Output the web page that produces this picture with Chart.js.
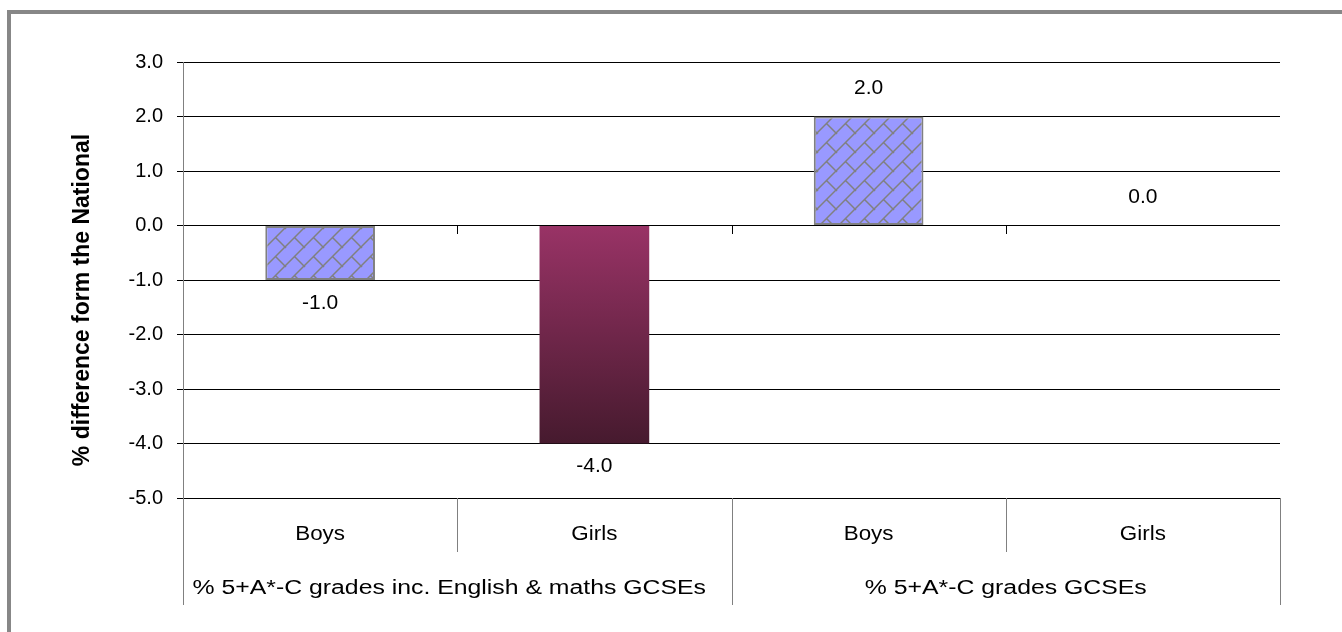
<!DOCTYPE html>
<html>
<head>
<meta charset="utf-8">
<script src="https://cdn.jsdelivr.net/npm/chart.js@4/dist/chart.umd.min.js"></script>
<style>
  html, body { margin: 0; padding: 0; background: #fff; }
  .wrap { position: relative; width: 1342px; height: 632px; overflow: hidden; }
  .frame { position: absolute; left: 7px; top: 10px; width: 1400px; height: 700px; border: 4px solid #878787; }
  #chart { position: absolute; left: 0; top: 0; }
</style>
</head>
<body>
<div class="wrap">
  <div class="frame"></div>
  <canvas id="chart" width="1342" height="632"></canvas>
</div>
<script>
// categories: sub label per bar, then the two measure groups (two bars each)
const subLabels = ['Boys', 'Girls', 'Boys', 'Girls'];
const groupLabels = ['% 5+A*-C grades inc. English & maths GCSEs', '% 5+A*-C grades GCSEs'];
const groupSpan = [2, 2];

// % difference from the national figure
const diffValues = [-1.0, -4.0, 2.0, 0.0];

const yMin = -5;
const yMax = 3;
const yStep = 1;
const yTitle = '% difference form the National';

const FONT = '"Liberation Sans", Arial, sans-serif';

function brickPattern() {
  const t = 19;
  const c = document.createElement('canvas');
  c.width = t;
  c.height = t;
  const g = c.getContext('2d');
  g.fillStyle = '#9999ff';
  g.fillRect(0, 0, t, t);
  g.strokeStyle = '#808080';
  g.lineWidth = 1.5;
  g.beginPath();
  // long diagonal rows
  [0, t, 2 * t].forEach((k) => {
    g.moveTo(k - t - 2, t + 2);
    g.lineTo(k + 2, -2);
  });
  // joints between rows
  g.moveTo(t / 2, t / 2);
  g.lineTo(t + 1, t + 1);
  g.moveTo(-t / 2, -t / 2);
  g.lineTo(1, 1);
  g.stroke();
  return g.createPattern(c, 'repeat');
}

const brick = brickPattern();

function barFill(ctx) {
  if (ctx.dataIndex !== 1) return brick;
  const chart = ctx.chart;
  const y = chart.scales.y;
  if (!y) return '#7a2a55';
  const v = diffValues[ctx.dataIndex];
  const g = chart.ctx.createLinearGradient(0, y.getPixelForValue(0), 0, y.getPixelForValue(v));
  g.addColorStop(0, '#993366');
  g.addColorStop(1, '#461a2e');
  return g;
}

// text a little wider than the font's own metrics
function wideText(ctx, s, x, y, sx) {
  ctx.save();
  ctx.translate(x, y);
  ctx.scale(sx, 1);
  ctx.fillText(s, 0, 0);
  ctx.restore();
}

// value labels above / below each bar
const valueLabels = {
  id: 'valueLabels',
  afterDatasetsDraw(chart) {
    const ctx = chart.ctx;
    const meta = chart.getDatasetMeta(0);
    ctx.save();
    ctx.font = '20px ' + FONT;
    ctx.fillStyle = '#000';
    ctx.textAlign = 'center';
    ctx.textBaseline = 'middle';
    meta.data.forEach((bar, i) => {
      const v = diffValues[i];
      const top = Math.min(bar.y, bar.base);
      const bottom = Math.max(bar.y, bar.base);
      const ty = v >= 0 ? top - 28 : bottom + 23;
      wideText(ctx, v.toFixed(1), bar.x, ty, 1.05);
    });
    ctx.restore();
  },
};

// two-level category axis below the plot, plus the y axis title
const categoryTable = {
  id: 'categoryTable',
  afterDraw(chart) {
    const ctx = chart.ctx;
    const x = chart.scales.x;
    const y = chart.scales.y;
    const area = chart.chartArea;
    const centers = subLabels.map((_, i) => x.getPixelForValue(i));
    const edges = [area.left];
    for (let i = 0; i < centers.length - 1; i++) edges.push((centers[i] + centers[i + 1]) / 2);
    edges.push(area.right);

    const rowTop = area.bottom;
    const row1 = rowTop + 54;
    const row2 = rowTop + 107;
    const y0 = Math.round(y.getPixelForValue(0));

    ctx.save();
    ctx.lineWidth = 1;
    ctx.strokeStyle = '#808080';
    ctx.beginPath();
    const groupEdges = [0];
    groupSpan.forEach((n) => groupEdges.push(groupEdges[groupEdges.length - 1] + n));
    edges.forEach((ex, i) => {
      const px = Math.round(ex) + 0.5;
      const full = groupEdges.includes(i);
      ctx.moveTo(px, rowTop);
      ctx.lineTo(px, full ? row2 : row1);
    });
    ctx.stroke();

    // small ticks on the zero line
    ctx.strokeStyle = '#000';
    ctx.beginPath();
    edges.slice(1, -1).forEach((ex) => {
      const px = Math.round(ex) + 0.5;
      ctx.moveTo(px, y0);
      ctx.lineTo(px, y0 + 8);
    });
    ctx.stroke();

    ctx.font = '20px ' + FONT;
    ctx.fillStyle = '#000';
    ctx.textAlign = 'center';
    ctx.textBaseline = 'middle';
    subLabels.forEach((s, i) => wideText(ctx, s, centers[i], rowTop + 36, 1.12));
    groupLabels.forEach((s, g) => {
      const l = edges[groupEdges[g]];
      const r = edges[groupEdges[g + 1]];
      wideText(ctx, s, (l + r) / 2 - (g === 0 ? 8 : 0), rowTop + 90, 1.24);
    });

    // y axis title
    ctx.font = 'bold 23px ' + FONT;
    ctx.translate(83, (area.top + area.bottom) / 2 + 20);
    ctx.rotate(-Math.PI / 2);
    ctx.fillText(yTitle, 0, 0);
    ctx.restore();
  },
};

new Chart(document.getElementById('chart'), {
  type: 'bar',
  data: {
    labels: subLabels,
    datasets: [{
      data: diffValues,
      backgroundColor: barFill,
      borderColor: (ctx) => (ctx.dataIndex === 1 ? 'rgba(0,0,0,0)' : '#808080'),
      borderWidth: (ctx) => (ctx.dataIndex === 1 ? 0 : 2),
      borderSkipped: false,
      categoryPercentage: 1,
      barPercentage: 0.4,
    }],
  },
  options: {
    responsive: false,
    animation: false,
    layout: { padding: { left: 60, top: 62, right: 62, bottom: 134 } },
    plugins: {
      legend: { display: false },
      tooltip: { enabled: false },
    },
    scales: {
      x: { display: false },
      y: {
        min: yMin,
        max: yMax,
        afterFit(scale) { scale.width = 123; },
        ticks: {
          stepSize: yStep,
          padding: 14,
          color: '#000',
          font: { family: FONT, size: 20 },
          callback: (v) => Number(v).toFixed(1),
        },
        grid: { color: '#000', lineWidth: 1, tickLength: 6 },
        border: { color: '#808080', width: 1 },
      },
    },
  },
  plugins: [valueLabels, categoryTable],
});
</script>
</body>
</html>
